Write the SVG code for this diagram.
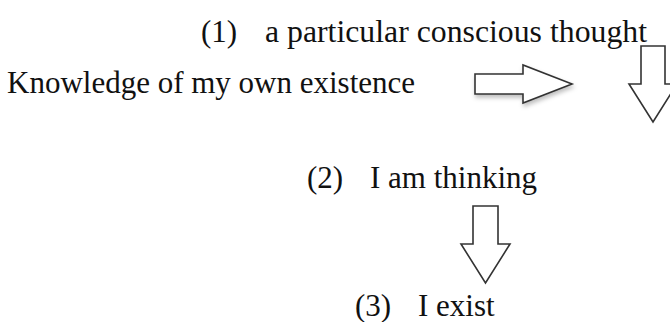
<svg xmlns="http://www.w3.org/2000/svg" width="670" height="322" viewBox="0 0 670 322">
  <style>
    .t { font-family: "Liberation Serif", "Times New Roman", serif; font-size: 31px; fill: #111; }
    .arrow { fill: #fff; stroke: #333; stroke-width: 1.6; stroke-linejoin: miter; }
  </style>
  <defs>
    <filter id="shadow" x="-20%" y="-30%" width="140%" height="170%">
      <feDropShadow dx="1" dy="3" stdDeviation="2" flood-color="#000" flood-opacity="0.25"/>
    </filter>
  </defs>
  <rect width="670" height="322" fill="#fff"/>
  <g id="node-1">
    <text class="t" x="201" y="42">(1)</text>
    <text class="t" x="265" y="42" textLength="382" lengthAdjust="spacingAndGlyphs">a particular conscious thought</text>
  </g>
  <g id="node-knowledge">
    <text class="t" x="7" y="93">Knowledge of my own existence</text>
  </g>
  <g id="node-2">
    <text class="t" x="307" y="188">(2)</text>
    <text class="t" x="370" y="188">I am thinking</text>
  </g>
  <g id="node-3">
    <text class="t" x="355" y="316">(3)</text>
    <text class="t" x="418" y="316">I exist</text>
  </g>
  <g id="connectors">
    <polygon class="arrow" filter="url(#shadow)" points="475,74 523,74 523,65 572,84 523,103 523,94 475,94"/>
    <polygon class="arrow" points="641,46 665,46 665,84 677,84 653,122 629,84 641,84"/>
    <polygon class="arrow" points="473,206 498,206 498,244 510,244 485.5,283 461,244 473,244"/>
  </g>
</svg>
